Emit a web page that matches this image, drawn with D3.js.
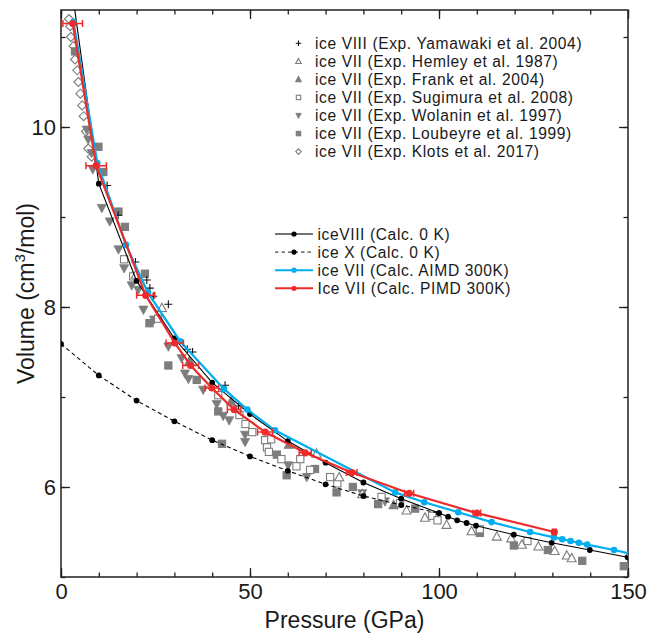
<!DOCTYPE html>
<html><head><meta charset="utf-8">
<script src="https://cdn.jsdelivr.net/npm/d3@7"></script>
<style>body{margin:0;background:#fff}svg{display:block}text{font-family:"Liberation Sans",Arial,Helvetica,sans-serif;fill:#1a1a1a}</style>
</head><body>
<script>
// ---------- data ----------
const xTicksMajor = [0, 50, 100, 150];
const yTicksMajor = [6, 8, 10];
const yamawaki = [[12.2,9.35],[15.1,9.02],[19.7,8.50],[22.7,8.30],[23.5,8.21],[24.4,8.12],[28.4,8.03],[33.4,7.53],[34.8,7.50],[43.4,7.13],[47,6.90]];
const hemley = [[19.8,8.36],[26.7,7.99],[67.6,6.37],[73.6,6.11],[79.7,5.92],[91.4,5.74],[96.3,5.66],[102,5.58],[108.6,5.51],[115.3,5.45],[119.1,5.43],[121.9,5.36],[126.3,5.34],[130.6,5.29],[133.8,5.24],[135.1,5.21]];
const frank = [[34,7.40],[45,6.95],[60.3,6.47],[88,5.80]];
const sugimura = [[16.7,8.53],[19.1,8.34],[25.7,7.87],[41.6,7.02],[47.2,6.80],[48.8,6.70],[50.6,6.61],[54,6.52],[55.6,6.53],[54.5,6.44],[55,6.39],[58.3,6.31],[63.3,6.31],[62.3,6.23],[65.9,6.19],[71.2,6.11],[73.1,6.04],[84.8,5.89],[89.7,5.82],[98.2,5.68],[99.6,5.63],[110.8,5.53],[123.4,5.40]];
const wolanin = [[6.8,9.97],[7.2,9.86],[8.1,9.71],[8.4,9.53],[10.8,9.10],[12.9,8.95],[15.2,8.64],[16.7,8.43],[18.7,8.24],[20.4,8.19],[21.8,7.97],[24.6,7.86],[28.4,7.56],[31.9,7.43],[32.8,7.26],[33.7,7.20],[37.6,7.08],[41.2,6.92],[42.9,6.79],[44.5,6.74],[48.7,6.58],[48.7,6.50],[60.1,6.24],[65,6.11],[79.7,5.93],[85.7,5.84]];
const loubeyre = [[3.7,10.84],[9.9,9.78],[11.2,9.50],[15.2,9.06],[16.9,8.89],[22.2,8.37],[23.4,7.82],[28.4,7.35],[35.9,7.19],[41.6,6.84],[42.6,6.48],[57.1,6.36],[59.7,6.13],[67.2,6.20],[72.9,5.94],[77.2,6.00],[83.9,5.81],[93.7,5.76],[110.8,5.49],[119.8,5.35],[128.8,5.30],[137.9,5.18],[148.9,5.12]];
const klots = [[2.1,11.2],[2.4,11.12],[2.6,11.0],[3.3,10.9],[3.7,10.75],[4.3,10.63],[4.6,10.5],[5.1,10.37],[5.6,10.24],[6.0,10.12],[6.6,9.95],[7.2,9.76],[8.1,9.67]];

const iceVIIIcalc = [[2.0,11.8],[10,9.37],[20,8.29],[30,7.65],[40,7.16],[50,6.81],[60,6.51],[70,6.27],[80,6.05],[90,5.87],[100,5.71],[102.4,5.67],[104.8,5.63],[107.3,5.60],[109.8,5.57],[119.8,5.47],[129.8,5.38],[139.9,5.30],[149.9,5.22]];
const iceXcalc = [[0,7.59],[10,7.24],[20,6.96],[30,6.73],[40,6.52],[50,6.34],[60,6.18],[70,6.03],[80,5.90],[90,5.80],[100,5.71]];
const aimd = [[3.3,11.17],[9.6,9.60],[17.2,8.69],[23.0,8.16],[31.5,7.62],[43.1,7.09],[49.3,6.86],[56.6,6.63],[88.4,5.94],[96.1,5.83],[105.1,5.72],[113.9,5.61],[124.1,5.50],[130.4,5.44],[132.6,5.42],[134.8,5.40],[137.0,5.38],[139.2,5.36],[146.3,5.30],[150.5,5.26]];
const pimd = [[3.1,11.15],[9.3,9.57],[22.4,8.13],[30.1,7.60],[34.3,7.35],[39.9,7.10],[45.8,6.86],[54.0,6.61],[64.6,6.38],[76.9,6.16],[92.1,5.93],[110.0,5.71],[130.5,5.50]];
const pimdErr = [2.6,2.7,2.4,2.3,2.1,1.8,1.8,2.0,1.6,1.4,1.2,1.0,0.5];

const expLabels = ["ice VIII (Exp. Yamawaki et al. 2004)","ice VII (Exp. Hemley et al. 1987)","ice VII (Exp. Frank et al. 2004)","ice VII (Exp. Sugimura et al. 2008)","ice VII (Exp. Wolanin et al. 1997)","ice VII (Exp. Loubeyre et al. 1999)","ice VII (Exp. Klots et al. 2017)"];
const calcLabels = ["iceVIII (Calc. 0 K)","ice X (Calc. 0 K)","ice VII (Calc. AIMD 300K)","Ice VII (Calc. PIMD 300K)"];

// ---------- layout ----------
const W = 647, H = 636;
const L = 61, R = 628, T = 10, B = 577;
const x = d3.scaleLinear().domain([0,150]).range([L,R]);
const y = d3.scaleLinear().domain([5.0,11.3]).range([B,T]);
const gray = "#7d7d7d", blue = "#00aeef", red = "#ee2b2b", ink = "#231f20";

const svg = d3.select("body").append("svg").attr("width",W).attr("height",H);
svg.append("defs").append("clipPath").attr("id","clip")
  .append("rect").attr("x",L).attr("y",T).attr("width",R-L).attr("height",B-T);

// axes (ticks inward on all four sides)
const fmt = d3.format("d");
const xMinor = d3.range(0,151,10), yMinor = d3.range(5,12,1);
svg.append("g").attr("transform",`translate(0,${B})`)
  .call(d3.axisBottom(x).tickValues(xMinor).tickSizeInner(-4.5).tickSizeOuter(0).tickFormat(""));
svg.append("g").attr("transform",`translate(0,${B})`)
  .call(d3.axisBottom(x).tickValues(xTicksMajor).tickSizeInner(-9).tickSizeOuter(0).tickPadding(6).tickFormat(fmt));
svg.append("g").attr("transform",`translate(0,${T})`)
  .call(d3.axisTop(x).tickValues(xMinor).tickSizeInner(-4.5).tickSizeOuter(0).tickFormat(""));
svg.append("g").attr("transform",`translate(0,${T})`)
  .call(d3.axisTop(x).tickValues(xTicksMajor).tickSizeInner(-9).tickSizeOuter(0).tickFormat(""));
svg.append("g").attr("transform",`translate(${L},0)`)
  .call(d3.axisLeft(y).tickValues(yMinor).tickSizeInner(-4.5).tickSizeOuter(0).tickFormat(""));
svg.append("g").attr("transform",`translate(${L},0)`)
  .call(d3.axisLeft(y).tickValues(yTicksMajor).tickSizeInner(-9).tickSizeOuter(0).tickPadding(5).tickFormat(fmt));
svg.append("g").attr("transform",`translate(${R},0)`)
  .call(d3.axisRight(y).tickValues(yMinor).tickSizeInner(-4.5).tickSizeOuter(0).tickFormat(""));
svg.append("g").attr("transform",`translate(${R},0)`)
  .call(d3.axisRight(y).tickValues(yTicksMajor).tickSizeInner(-9).tickSizeOuter(0).tickFormat(""));
svg.selectAll(".domain").remove();
svg.selectAll(".tick line").attr("stroke",ink).attr("stroke-width",1.3);
svg.selectAll(".tick text").attr("font-size",22).attr("fill",ink).attr("font-family","Liberation Sans, Arial, sans-serif");
svg.append("rect").attr("x",L).attr("y",T).attr("width",R-L).attr("height",B-T)
  .attr("fill","none").attr("stroke",ink).attr("stroke-width",1.5);

// axis titles
svg.append("text").attr("x",(L+R)/2).attr("y",628).attr("text-anchor","middle").attr("font-size",23).text("Pressure (GPa)");
const yl = svg.append("text").attr("transform",`translate(34,${(T+B)/2}) rotate(-90)`).attr("text-anchor","middle").attr("font-size",23);
yl.append("tspan").text("Volume (cm");
yl.append("tspan").attr("font-size",15).attr("dy",-9).text("3");
yl.append("tspan").attr("dy",9).text("/mol)");

// marker shapes
function marker(g, type, cx, cy, s) {
  const h = s/2;
  if (type === "plus") {
    g.append("path").attr("d",`M${cx-h},${cy}H${cx+h}M${cx},${cy-h}V${cy+h}`).attr("stroke","#111").attr("stroke-width",1.1).attr("fill","none");
  } else if (type === "triUpOpen" || type === "triUp") {
    const p = `M${cx},${cy-h*1.05}L${cx+h},${cy+h*0.8}L${cx-h},${cy+h*0.8}Z`;
    g.append("path").attr("d",p).attr("fill",type==="triUp"?gray:"#fff").attr("stroke",gray).attr("stroke-width",1.1);
  } else if (type === "triDown") {
    const p = `M${cx},${cy+h*1.05}L${cx+h},${cy-h*0.8}L${cx-h},${cy-h*0.8}Z`;
    g.append("path").attr("d",p).attr("fill",gray).attr("stroke",gray).attr("stroke-width",0.8);
  } else if (type === "sqOpen" || type === "sq") {
    const a = h*0.8;
    g.append("rect").attr("x",cx-a).attr("y",cy-a).attr("width",2*a).attr("height",2*a)
      .attr("fill",type==="sq"?gray:"#fff").attr("stroke",gray).attr("stroke-width",1.1);
  } else if (type === "diamond") {
    g.append("path").attr("d",`M${cx},${cy-h}L${cx+h},${cy}L${cx},${cy+h}L${cx-h},${cy}Z`).attr("fill","#fff").attr("stroke",gray).attr("stroke-width",1.1);
  }
}

const plot = svg.append("g").attr("clip-path","url(#clip)");
const expSets = [[klots,"diamond"],[loubeyre,"sq"],[wolanin,"triDown"],[sugimura,"sqOpen"],[frank,"triUp"],[hemley,"triUpOpen"],[yamawaki,"plus"]];
expSets.forEach(([data,type]) => {
  const g = plot.append("g");
  data.forEach(d => marker(g, type, x(d[0]), y(d[1]), type==="plus"?8:9));
});

const line = d3.line().x(d=>x(d[0])).y(d=>y(d[1])).curve(d3.curveLinear);
function series(data, color, lw, r, dash) {
  const g = plot.append("g");
  g.append("path").attr("d",line(data)).attr("fill","none").attr("stroke",color).attr("stroke-width",lw).attr("stroke-dasharray",dash||null);
  g.selectAll("circle").data(data).join("circle").attr("cx",d=>x(d[0])).attr("cy",d=>y(d[1])).attr("r",r).attr("fill",color);
  return g;
}
series(iceVIIIcalc, "#000", 1.1, 2.9);
series(iceXcalc, "#000", 1.1, 2.9, "4,3");
series(aimd, blue, 2.2, 3.3);
const gr = series(pimd, red, 2.2, 3.6);
pimd.forEach((d,i) => {
  const e = pimdErr[i], yy = y(d[1]);
  gr.append("path").attr("d",`M${x(d[0]-e)},${yy}H${x(d[0]+e)}M${x(d[0]-e)},${yy-3.5}V${yy+3.5}M${x(d[0]+e)},${yy-3.5}V${yy+3.5}`)
    .attr("stroke",red).attr("stroke-width",1.5).attr("fill","none");
});

// legend 1 (experiments)
const leg1 = svg.append("g");
const expTypes = ["plus","triUpOpen","triUp","sqOpen","triDown","sq","diamond"];
expLabels.forEach((t,i) => {
  const cy = 43.3 + i*18.05;
  marker(leg1, expTypes[i], 298.5, cy, 5.5);
  leg1.append("text").attr("x",315).attr("y",cy+5.7).attr("font-size",15.6).attr("letter-spacing",0.6).text(t);
});

// legend 2 (calculations)
const leg2 = svg.append("g");
const calcStyles = [["#444",null,"#000"],["#444","3.5,3","#000"],[blue,null,blue],[red,null,red]];
calcLabels.forEach((t,i) => {
  const cy = 234 + i*18.1;
  const [c,dash,dc] = calcStyles[i];
  leg2.append("line").attr("x1",275).attr("x2",313).attr("y1",cy).attr("y2",cy).attr("stroke",c).attr("stroke-width",i>1?2:1.4).attr("stroke-dasharray",dash);
  leg2.append("circle").attr("cx",294).attr("cy",cy).attr("r",2.6).attr("fill",dc);
  leg2.append("text").attr("x",317.5).attr("y",cy+5.7).attr("font-size",15.6).attr("letter-spacing",0.6).text(t);
});
</script>
</body></html>
